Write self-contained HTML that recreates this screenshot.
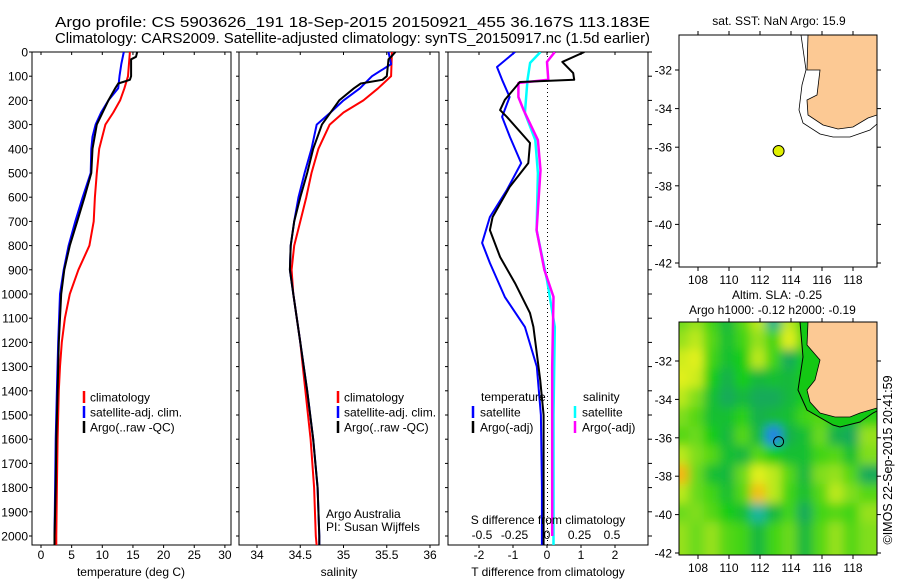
<!DOCTYPE html>
<html><head><meta charset="utf-8">
<style>
html,body{margin:0;padding:0;background:#fff;}
svg{display:block;font-family:"Liberation Sans",sans-serif;}
text{fill:#000;}
</style></head>
<body>
<svg id="fig" width="900" height="580" viewBox="0 0 900 580" xmlns="http://www.w3.org/2000/svg">
<defs>
<clipPath id="clipT"><rect x="32" y="52" width="199" height="493"/></clipPath>
<clipPath id="clipS"><rect x="239" y="52" width="200" height="493"/></clipPath>
<clipPath id="clipD"><rect x="448" y="52" width="200" height="493"/></clipPath>
<clipPath id="clipM2"><rect x="679" y="322" width="198" height="233"/></clipPath>
<filter id="blur" x="-10%" y="-10%" width="120%" height="120%"><feGaussianBlur stdDeviation="5"/></filter>
</defs>
<text x="55" y="27" font-size="15" textLength="595" lengthAdjust="spacingAndGlyphs">Argo profile: CS 5903626_191 18-Sep-2015 20150921_455 36.167S 113.183E</text>
<text x="55" y="43" font-size="15" textLength="595" lengthAdjust="spacingAndGlyphs">Climatology: CARS2009. Satellite-adjusted climatology: synTS_20150917.nc (1.5d earlier)</text>
<g id="g1"></g>
<g id="g2"></g>
<g id="g3"></g>
<g id="m1"></g>
<g id="m2"></g>
<text transform="translate(892,460) rotate(-90)" text-anchor="middle" font-size="12.5">©IMOS 22-Sep-2015 20:41:59</text>
</svg>
<script>
// ---- data ----
const depthTicks=[0,100,200,300,400,500,600,700,800,900,1000,1100,1200,1300,1400,1500,1600,1700,1800,1900,2000];
const tempTicks=[0,5,10,15,20,25,30];
const salTicks=[34,34.5,35,35.5,36];
const salTickLabels=["34","34.5","35","35.5","36"];
const tdiffTicks=[-2,-1,0,1,2];
const sdiffTicks=[-0.5,-0.25,0,0.25,0.5];
const sdiffLabels=["-0.5","-0.25","0","0.25","0.5"];

const climDepth=[0,100,150,200,250,300,400,500,600,700,800,900,1000,1100,1200,1300,1400,1600,1800,2000,2080];
const climTemp=[14.5,14.2,13.6,12.9,11.8,10.5,9.5,9.1,8.8,8.6,7.9,6.1,4.7,3.9,3.4,3.1,2.9,2.7,2.6,2.5,2.5];
const satDepth=[0,50,100,150,200,250,300,350,400,500,600,700,800,900,1000,1200,1400,1600,1800,2000,2060];
const satTemp=[13.5,13.1,12.8,12.6,11.0,9.8,8.9,8.4,8.2,8.1,6.8,5.6,4.5,3.7,3.1,2.8,2.6,2.4,2.3,2.2,2.2];
const argoDepth=[0,20,30,100,115,130,150,200,300,400,500,600,700,800,900,1000,1200,1400,1600,1800,2000,2050];
const argoTemp=[15.7,15.5,14.7,14.7,14.5,12.6,12.1,11.0,9.1,8.4,8.2,7.1,5.9,4.7,3.8,3.3,2.9,2.7,2.5,2.4,2.2,2.2];

const climSal=[35.56,35.55,35.4,35.23,35.0,34.84,34.71,34.63,34.57,34.5,34.43,34.4,34.42,34.46,34.5,34.53,34.56,34.62,34.66,34.68,34.7];
const satSal=[35.52,35.55,35.33,35.19,35.0,34.85,34.69,34.66,34.63,34.55,34.48,34.43,34.39,34.38,34.42,34.5,34.58,34.65,34.7,34.72,34.72];
const argoSal=[35.6,35.55,35.52,35.5,35.45,35.2,35.12,34.95,34.75,34.65,34.58,34.5,34.43,34.39,34.38,34.42,34.5,34.58,34.65,34.7,34.72,34.72];

const dArgoDepth=[0,41,87,115,124,149,198,240,268,376,459,558,682,736,847,955,1079,1136,1355,1500,1800,2000,2050];
const dArgoT=[1.1,0.45,0.77,0.8,-0.8,-0.95,-1.24,-1.38,-1.18,-0.5,-0.55,-1.1,-1.6,-1.68,-1.38,-0.94,-0.5,-0.4,-0.2,-0.1,-0.1,-0.1,-0.1];
const dSatDepth=[0,62,115,186,268,351,459,570,682,789,872,1012,1136,1300,1500,1800,2000,2060];
const dSatT=[-0.94,-1.47,-1.32,-1.1,-1.32,-1.09,-0.76,-1.18,-1.68,-1.91,-1.68,-1.24,-0.65,-0.3,-0.18,-0.15,-0.15,-0.15];
const dSatSDepth=[0,45,115,252,364,500,736,942,1136,1500,2000,2060];
const dSatS=[-0.05,-0.13,-0.15,-0.17,-0.09,-0.07,-0.08,0.0,0.06,0.05,0.05,0.05];
const dArgoSDepth=[0,41,115,128,186,240,364,488,736,901,1012,1300,1600,2000];
const dArgoS=[0.06,0.0,0.01,-0.22,-0.22,-0.18,-0.07,-0.05,-0.08,-0.02,0.05,0.04,0.04,0.04];

const mapLonTicks=[108,110,112,114,116,118];
const mapLatTicks=[-32,-34,-36,-38,-40,-42];
const argoLon=113.2, argoLat=-36.2;
const slaLons=[107,108,109,110,111,112,113,114,115,116,117,118,119];
const slaLats=[-30,-31,-32,-33,-34,-35,-36,-37,-38,-39,-40,-41];
const slaGrid=[
[0.4,0.6,0.2,-0.3,0.3,0.8,-0.8,0.8,0.2,0.2,0.2,0.2,0.2],
[0.6,0.8,0.3,-0.2,0.2,0.6,0.2,1.0,0.3,0.2,0.2,0.2,0.2],
[0.9,1.0,0.2,-0.2,0.0,0.8,0.2,-0.5,0.0,0.0,0.0,0.0,0.0],
[1.0,0.9,0.0,-0.4,0.0,-0.3,-0.2,-0.3,0.0,0.0,0.0,0.0,0.0],
[0.8,0.5,-0.2,-0.5,-0.3,-0.5,-0.5,-0.3,0.0,0.0,0.0,0.0,0.0],
[0.5,0.3,-0.2,-0.2,0.1,-0.4,-0.3,-0.2,0.2,0.3,0.0,-0.2,0.1],
[0.3,0.4,0.0,-0.3,0.3,-0.3,-1.8,-0.4,-0.2,0.4,-0.4,-0.5,0.6],
[0.8,0.5,0.3,-0.2,-0.3,0.3,0.0,-0.2,-0.2,0.2,0.3,-0.2,0.5],
[1.5,0.4,-0.2,-0.3,0.4,1.0,0.8,0.3,-0.3,0.5,0.6,0.3,-0.5],
[0.8,0.4,0.2,-0.2,0.3,1.4,0.8,0.2,-0.2,0.3,0.8,0.5,0.3],
[0.4,0.5,0.3,0.0,-0.2,-0.9,-0.3,0.2,-0.5,0.2,0.3,0.2,0.6],
[0.6,0.4,0.6,0.3,0.2,-0.3,0.2,0.4,-0.3,0.3,0.6,0.3,0.5]];

// ---- scales ----
const NS="http://www.w3.org/2000/svg";
const PB=545;
const yD=d=>52+d*0.242;
const xT=t=>41+t*6.13;
const xS=s=>257+(s-34)*86.5;
const xDT=t=>547+t*34;
const xDS=s=>547+s*130;
const mx=lon=>698+(lon-108)*15.5;
const my1=lat=>70+(-32-lat)*19.3;
const my2=lat=>361+(-32-lat)*19.2;

function el(tag,attrs,parent){const e=document.createElementNS(NS,tag);for(const k in attrs)e.setAttribute(k,attrs[k]);parent.appendChild(e);return e;}
function txt(parent,x,y,s,size,anchor){const t=el('text',{x:x,y:y,'font-size':size,'text-anchor':anchor||'start'},parent);t.textContent=s;return t;}
function line(parent,xs,ys,xf,color,w,clip){
  let d='';for(let i=0;i<xs.length;i++){d+=(i?'L':'M')+xf(xs[i]).toFixed(1)+','+yD(ys[i]).toFixed(1);}
  return el('path',{d:d,fill:'none',stroke:color,'stroke-width':w,'stroke-linejoin':'round','clip-path':clip},parent);
}
function frame(g,x0,x1,name){
  const r=el('rect',{x:x0,y:52,width:x1-x0,height:PB-52,fill:'none',stroke:'#000','stroke-width':1},g);
  
  
  depthTicks.forEach(d=>{el('line',{x1:x0-3,x2:x0,y1:yD(d),y2:yD(d),stroke:'#000'},g);});
}

// Panel 1
const g1=document.getElementById('g1');
frame(g1,32,231,'temperature-axes');
depthTicks.forEach(d=>{const t=txt(g1,28,yD(d)+4.5,String(d),12,'end');
  
  });
tempTicks.forEach(v=>{el('line',{x1:xT(v),x2:xT(v),y1:PB,y2:PB+3,stroke:'#000'},g1);el('line',{x1:xT(v),x2:xT(v),y1:52,y2:55,stroke:'#000'},g1);
  const t=txt(g1,xT(v),559,String(v),12,'middle');
  
  });
let p;
p=line(g1,climTemp,climDepth,xT,'#ff0000',2,'url(#clipT)');


p=line(g1,satTemp,satDepth,xT,'#0000ff',2,'url(#clipT)');


p=line(g1,argoTemp,argoDepth,xT,'#000000',2,'url(#clipT)');


function legend(g,x,items){items.forEach((it,i)=>{const y=397+i*15;
  el('line',{x1:x,x2:x,y1:y-6,y2:y+6,stroke:it[0],'stroke-width':2.5},g);
  const t=txt(g,x+6,y+4.5,it[1],12);
  
  });}
legend(g1,84,[['#ff0000','climatology'],['#0000ff','satellite-adj. clim.'],['#000','Argo(..raw -QC)']]);
let t;
t=txt(g1,131,576,'temperature (deg C)',12,'middle');



// Panel 2
const g2=document.getElementById('g2');
frame(g2,239,439,'salinity-axes');
salTicks.forEach((v,i)=>{el('line',{x1:xS(v),x2:xS(v),y1:PB,y2:PB+3,stroke:'#000'},g2);el('line',{x1:xS(v),x2:xS(v),y1:52,y2:55,stroke:'#000'},g2);
  const t=txt(g2,xS(v),559,salTickLabels[i],12,'middle');
  
  });
p=line(g2,climSal,climDepth,xS,'#ff0000',2,'url(#clipS)');


p=line(g2,satSal,satDepth,xS,'#0000ff',2,'url(#clipS)');


p=line(g2,argoSal,argoDepth,xS,'#000000',2,'url(#clipS)');


legend(g2,338,[['#ff0000','climatology'],['#0000ff','satellite-adj. clim.'],['#000','Argo(..raw -QC)']]);
t=txt(g2,326,518,'Argo Australia',12);


t=txt(g2,326,531,'PI: Susan Wijffels',12);


t=txt(g2,339,576,'salinity',12,'middle');



// Panel 3
const g3=document.getElementById('g3');
frame(g3,448,648,'difference-axes');
depthTicks.forEach(d=>{el('line',{x1:648,x2:652,y1:yD(d),y2:yD(d),stroke:'#000'},g3);});
el('line',{x1:547.5,x2:547.5,y1:52,y2:PB,stroke:'#000','stroke-dasharray':'1,3'},g3);
tdiffTicks.forEach(v=>{el('line',{x1:xDT(v),x2:xDT(v),y1:PB,y2:PB+3,stroke:'#000'},g3);el('line',{x1:xDT(v),x2:xDT(v),y1:52,y2:55,stroke:'#000'},g3);
  const t=txt(g3,xDT(v),559,String(v),12,'middle');
  
  });
p=line(g3,dSatS,dSatSDepth,xDS,'#00ffff',2.5,'url(#clipD)');


p=line(g3,dArgoS,dArgoSDepth,xDS,'#ff00ff',2.5,'url(#clipD)');


p=line(g3,dSatT,dSatDepth,xDT,'#0000ff',2,'url(#clipD)');


p=line(g3,dArgoT,dArgoDepth,xDT,'#000000',2,'url(#clipD)');


sdiffTicks.forEach((v,i)=>{const t=txt(g3,xDS(v),539,sdiffLabels[i],12,'middle');
  
  });
t=txt(g3,481,401,'temperature',12);


t=txt(g3,583,401,'salinity',12);


function leg3(x,y,c,s){el('line',{x1:x,x2:x,y1:y-6,y2:y+6,stroke:c,'stroke-width':2.5},g3);
  const t=txt(g3,x+7,y+4.5,s,12);
  
  }
leg3(473,412,'#0000ff','satellite');leg3(473,427,'#000','Argo(-adj)');
leg3(575,412,'#00ffff','satellite');leg3(575,427,'#ff00ff','Argo(-adj)');
t=txt(g3,548,524,'S difference from climatology',12,'middle');


t=txt(g3,548,576,'T difference from climatology',12,'middle');



// Maps
function mapAxes(g,y0,y1,myf){
  el('rect',{x:679,y:y0,width:198,height:y1-y0,fill:'none',stroke:'#000'},g);
  mapLonTicks.forEach(v=>{el('line',{x1:mx(v),x2:mx(v),y1:y1,y2:y1+4,stroke:'#000'},g);el('line',{x1:mx(v),x2:mx(v),y1:y0-4,y2:y0,stroke:'#000'},g);
    const t=txt(g,mx(v),y1+17,String(v),12,'middle');
    
    });
  mapLatTicks.forEach(v=>{el('line',{x1:675,x2:679,y1:myf(v),y2:myf(v),stroke:'#000'},g);el('line',{x1:877,x2:881,y1:myf(v),y2:myf(v),stroke:'#000'},g);
    const t=txt(g,672,myf(v)+4.5,String(v),12,'end');
    
    });
}
const m1=document.getElementById('m1');
let lp=el('polygon',{points:'808,35 807,70 820,70 817,95 807,100 808,115 823,125 838,129 853,127 868,118 877,115 877,35',fill:'#fcc994',stroke:'#000','stroke-width':0.8},m1);


el('polyline',{points:'801,35 806,70 802,85 799,110 803,123 820,134 833,137 850,137 870,130 877,124',fill:'none',stroke:'#000','stroke-width':0.8},m1);
mapAxes(m1,35,267,my1);
let dot=el('circle',{cx:mx(argoLon),cy:my1(argoLat),r:5.5,fill:'#e0f000',stroke:'#000','stroke-width':1},m1);


t=txt(m1,779,25,'sat. SST: NaN Argo: 15.9',12,'middle');



const m2=document.getElementById('m2');
function slaColor(v){
  const stops=[[-2,[30,110,240]],[-1.2,[40,190,210]],[-0.5,[20,170,90]],[0,[20,205,20]],[0.6,[150,225,30]],[1.0,[225,240,30]],[1.6,[250,170,20]]];
  if(v<=stops[0][0])return 'rgb('+stops[0][1]+')';
  for(let i=1;i<stops.length;i++){if(v<=stops[i][0]){const a=stops[i-1],b=stops[i],f=(v-a[0])/(b[0]-a[0]);
    return 'rgb('+a[1].map((c,k)=>Math.round(c+(b[1][k]-c)*f)).join(',')+')';}}
  return 'rgb('+stops[stops.length-1][1]+')';
}
const hg=el('g',{'clip-path':'url(#clipM2)'},m2);
el('rect',{x:679,y:322,width:198,height:233,fill:'rgb(60,210,30)'},hg);
const hb=el('g',{filter:'url(#blur)'},hg);
slaLats.forEach((la,r)=>{slaLons.forEach((lo,c)=>{
  let x0=mx(lo-0.5)-2,x1=mx(lo+0.5)+2,y0=my2(la+0.5)-2,y1=my2(la-0.5)+2;
  if(c===0)x0-=20; if(c===slaLons.length-1)x1+=20;
  if(r===0)y0-=20; if(r===slaLats.length-1)y1+=20;
  const cell=el('rect',{x:x0,y:y0,width:x1-x0,height:y1-y0,fill:slaColor(slaGrid[r][c])},hb);
  
  
});});
el('polygon',{points:'800,322 803,357 798,390 807,410 833,425 840,427 860,422 873,413 879,410 879,322',fill:'rgb(20,200,20)',stroke:'#000','stroke-width':1},hg);
lp=el('polygon',{points:'808,322 807,345 820,360 815,380 807,390 810,402 820,413 835,417 850,417 860,413 877,408 877,322',fill:'#fcc994',stroke:'#000','stroke-width':0.8},hg);


mapAxes(m2,322,555,my2);
dot=el('circle',{cx:mx(argoLon),cy:my2(argoLat),r:5,fill:'none',stroke:'#000','stroke-width':1},m2);


t=txt(m2,732,299,'Altim. SLA: -0.25',12);


t=txt(m2,689,314,'Argo h1000: -0.12 h2000: -0.19',12);


</script>
</body></html>
